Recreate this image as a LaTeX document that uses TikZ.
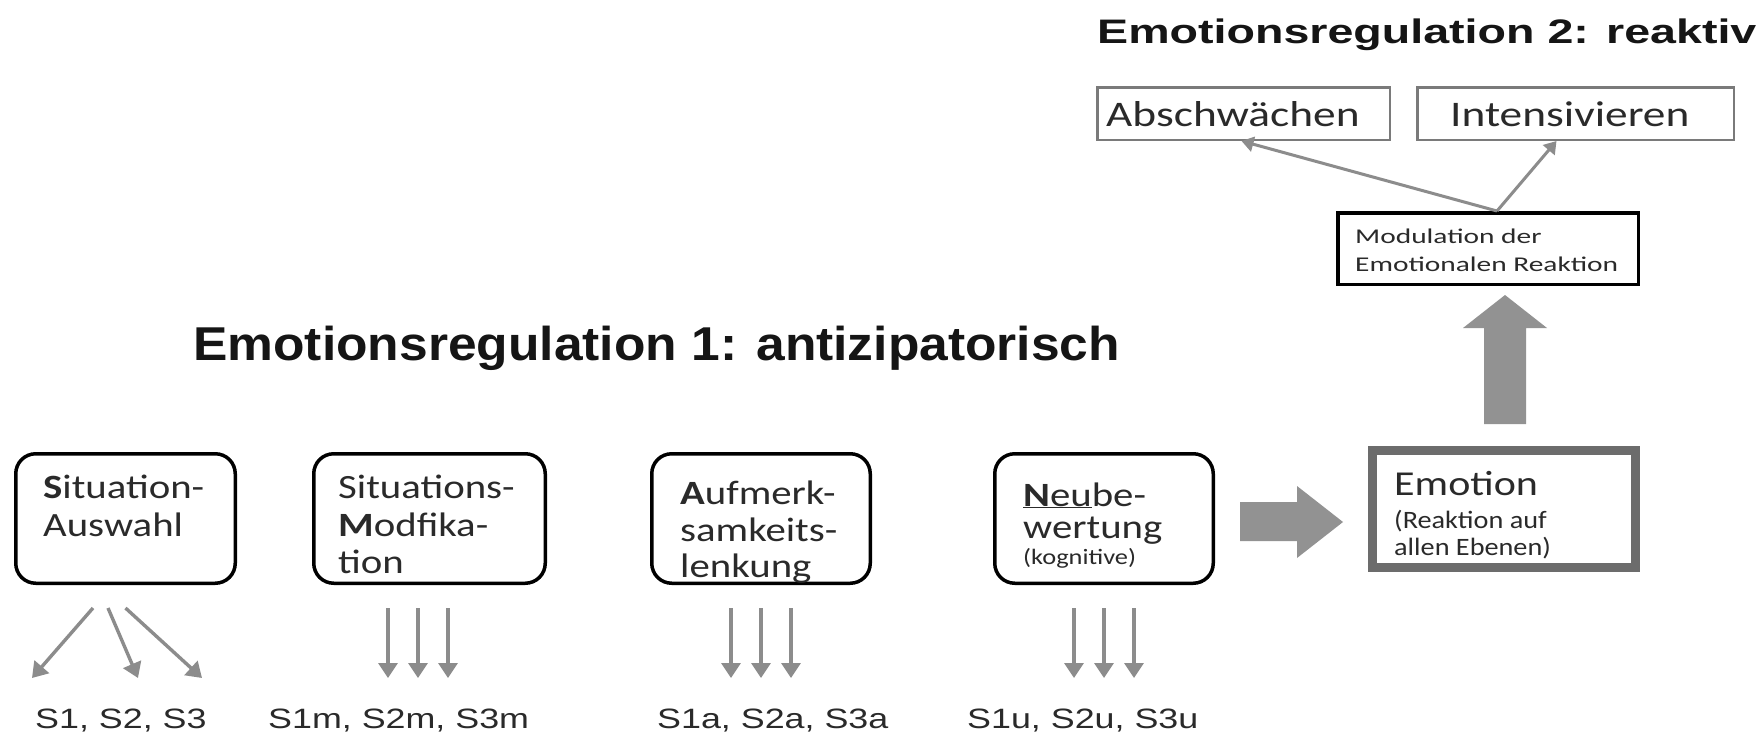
\documentclass[tikz,border=0pt]{standalone}
\usepackage{fontspec}
\setmainfont{Carlito}
\newfontfamily\arial{Liberation Sans}
\usetikzlibrary{arrows.meta,calc}
% horizontally widened text
\newcommand{\sx}[2]{\scalebox{#1}[1]{#2}}
\definecolor{titleblack}{HTML}{151515}
\definecolor{txtgray}{HTML}{2A2A2A}
\definecolor{arrowgray}{HTML}{8C8C8C}
\definecolor{blockgray}{HTML}{929292}
\definecolor{emogray}{HTML}{6C6C6C}
\definecolor{thinboxgray}{HTML}{7A7A7A}

\begin{document}
\begin{tikzpicture}[x=1pt,y=-1pt,
  stagebox/.style={draw=black,line width=3.5pt,rounded corners=20pt,minimum height=129.5pt},
  txt/.style={anchor=base west,inner sep=0pt,text=txtgray},
  boxfont/.style={font=\fontsize{34}{37}\selectfont},
  lbl/.style={anchor=base west,inner sep=0pt,text=txtgray,font=\arial\fontsize{28}{30}\selectfont},
  smallarrow/.style={draw=arrowgray,line width=3.4pt,-{Triangle[width=19pt,length=15pt]}},
  modarrow/.style={draw=arrowgray,line width=3pt,-{Triangle[width=15pt,length=12pt]}},
  heading/.style={anchor=base west,inner sep=0pt,text=titleblack},
  blockarrow/.style={fill=blockgray,draw=none}]

\fill[white] (0,0) rectangle (1762,734);
\useasboundingbox (0,0) rectangle (1762,734);

% headings
\node[heading,font=\arial\bfseries\fontsize{47.5}{50}\selectfont] (title1) at (193,360)
  {\sx{1.085}{Emotionsregulation 1: antizipatorisch}};
\node[heading,font=\arial\bfseries\fontsize{34}{36}\selectfont] (title2) at (1097,43)
  {\sx{1.37}{Emotionsregulation 2: reaktiv}};

% antizipatorische Strategien
\node[stagebox,minimum width=219.5pt] (b1) at (125.5,518.5) {};
\node[stagebox,minimum width=231.5pt] (b2) at (429.5,518.5) {};
\node[stagebox,minimum width=218.5pt] (b3) at (761,518.5) {};
\node[stagebox,minimum width=218.5pt] (b4) at (1104,518.5) {};

\node[txt,boxfont] (t1a) at (43,498) {\sx{1.2}{\textbf{S}ituation-}};
\node[txt,boxfont] (t1b) at (43,536) {\sx{1.2}{Auswahl}};

\node[txt,boxfont] (t2a) at (338,498) {\sx{1.2}{Situations-}};
\node[txt,boxfont] (t2b) at (338,536) {\sx{1.2}{\textbf{M}odfika-}};
\node[txt,boxfont] (t2c) at (338,573) {\sx{1.2}{tion}};

\node[txt,boxfont] (t3a) at (680,504) {\sx{1.2}{\textbf{A}ufmerk-}};
\node[txt,boxfont] (t3b) at (680,541) {\sx{1.2}{samkeits-}};
\node[txt,boxfont] (t3c) at (680,577) {\sx{1.2}{lenkung}};

\node[txt,boxfont] (t4a) at (1023,506) {\sx{1.2}{\underline{\textbf{N}eu}be-}};
\node[txt,boxfont] (t4b) at (1023,538) {\sx{1.2}{wertung}};
\node[txt,font=\fontsize{22}{24}\selectfont] (t4c) at (1023,564) {\sx{1.2}{(kognitive)}};

% Strategievarianten
\node[lbl] (l1) at (35,728) {\sx{1.28}{S1, S2, S3}};
\node[lbl] (l2) at (268,728) {\sx{1.28}{S1m, S2m, S3m}};
\node[lbl] (l3) at (657,728) {\sx{1.28}{S1a, S2a, S3a}};
\node[lbl] (l4) at (967,728) {\sx{1.28}{S1u, S2u, S3u}};

\draw[smallarrow] ($(b1.south)+(-32.5,23)$) -- ($(b1.south)+(-93.5,93)$);
\draw[smallarrow] ($(b1.south)+(-17.5,23)$) -- ($(b1.south)+(12.5,93)$);
\draw[smallarrow] ($(b1.south)+(0,23)$) -- ($(b1.south)+(76.5,93)$);

\foreach \dx in {-41.5,-11.5,18.5}
  \draw[smallarrow] ($(b2.south)+(\dx,23)$) -- ($(b2.south)+(\dx,93)$);
\foreach \dx in {-30,0,30}
  \draw[smallarrow] ($(b3.south)+(\dx,23)$) -- ($(b3.south)+(\dx,93)$);
\foreach \dx in {-30,0,30}
  \draw[smallarrow] ($(b4.south)+(\dx,23)$) -- ($(b4.south)+(\dx,93)$);

% Emotion
\node[draw=emogray,line width=9pt,minimum width=263pt,minimum height=117pt] (emo) at (1504,509) {};
\node[txt,font=\fontsize{35}{38}\selectfont] (te1) at (1394,495) {\sx{1.2}{Emotion}};
\node[txt,font=\fontsize{25}{27}\selectfont] (te2) at (1394,528) {\sx{1.13}{(Reaktion auf}};
\node[txt,font=\fontsize{25}{27}\selectfont] (te3) at (1394,555) {\sx{1.13}{allen Ebenen)}};

% block arrow from Neubewertung to Emotion
\fill[blockarrow] (1240,502) -- (1297,502) -- (1297,486) -- (1343,522)
  -- (1297,558) -- (1297,541) -- (1240,541) -- cycle;

% block arrow from Emotion up to the modulation
\fill[blockarrow] (1484,424) -- (1484,328) -- (1463,328) -- (1505,295)
  -- (1547,328) -- (1526,328) -- (1526,424) -- cycle;

% reaktive Regulation
\node[draw=black,line width=3.5pt,minimum width=300.5pt,minimum height=71.5pt] (mod) at (1488,248.5) {};
\node[txt,font=\fontsize{21}{23}\selectfont] (tm1) at (1355,243) {\sx{1.4}{Modulation der}};
\node[txt,font=\fontsize{21}{23}\selectfont] (tm2) at (1355,271) {\sx{1.4}{Emotionalen Reaktion}};

\node[draw=thinboxgray,line width=2.5pt,minimum width=292.5pt,minimum height=52.5pt] (absch) at (1243.5,113.5) {};
\node[draw=thinboxgray,line width=2.5pt,minimum width=316.5pt,minimum height=52.5pt] (inten) at (1575.5,113.5) {};
\node[txt,font=\fontsize{36}{38}\selectfont] (ta) at (1106,126) {\sx{1.26}{Abschwächen}};
\node[txt,font=\fontsize{36}{38}\selectfont] (ti) at (1450,126) {\sx{1.26}{Intensivieren}};

\draw[modarrow] ($(mod.north)+(9,0)$) -- ($(absch.south)+(-2,0)$);
\draw[modarrow] ($(mod.north)+(9,0)$) -- ($(inten.south)+(-19,0)$);

\end{tikzpicture}
\end{document}
